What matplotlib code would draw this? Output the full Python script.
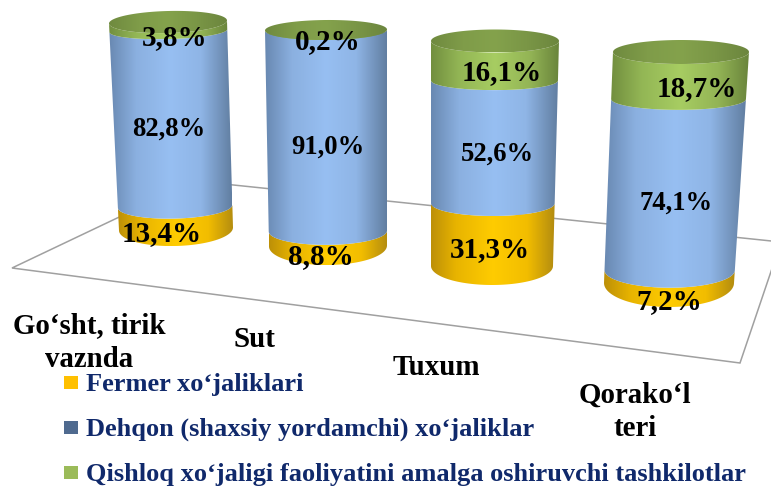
import numpy as np
import matplotlib
matplotlib.use("Agg")
import matplotlib.pyplot as plt
from matplotlib.colors import LinearSegmentedColormap
from matplotlib.patches import Polygon, Rectangle

# ----------------------------------------------------------------------
# Data
# ----------------------------------------------------------------------
categories = ["Go‘sht, tirik\nvaznda", "Sut", "Tuxum", "Qorako‘l\nteri"]
series_names = ["Fermer xo‘jaliklari",
                "Dehqon (shaxsiy yordamchi) xo‘jaliklar",
                "Qishloq xo‘jaligi faoliyatini amalga oshiruvchi tashkilotlar"]
fermer = [13.4, 8.8, 31.3, 7.2]
dehqon = [82.8, 91.0, 52.6, 74.1]
tashkilot = [3.8, 0.2, 16.1, 18.7]

# ----------------------------------------------------------------------
# Layout of the fake 3D scene, in pixels
# ----------------------------------------------------------------------
# bottom cx, bottom rx, bottom cy, bottom ry, top cx, top rx, top cy, top ry, tilt
cylinders = [
    (176, 57, 229, 17, 168, 59, 22, 11, -1.5),
    (328, 59, 246, 19, 326, 61, 30, 10, -0.5),
    (492, 61, 266, 19, 495, 64, 41, 11.5, 0),
    (669, 65, 283, 24, 681, 68, 52, 12, 0),
]
label_pos = [
    [(162, 234), (169, 129), (175, 38)],
    [(321, 257), (328, 147), (328, 42)],
    [(490, 250), (497, 154), (502, 73)],
    [(669, 302), (676, 203), (697, 89)],
]
label_size = [21, 19.2, 21]
cat_centers = [89, 254, 436, 635]
cat_tops = [326, 339, 367, 395]
cat_line_gap = 33
legend_y = [384, 429, 474]
floor = [(12, 268), (195, 181), (781, 242), (740, 363)]
perspective = 1.1      # stacked percent -> height on screen
inner_ry = 0.75        # inner boundaries look flatter than the end caps

side_cmaps = [
    LinearSegmentedColormap.from_list("y", [(0, "#bd9008"), (0.2, "#e8b400"), (0.5, "#ffcc00"),
                                            (0.78, "#f2bd00"), (1, "#b38c10")]),
    LinearSegmentedColormap.from_list("b", [(0, "#6989b2"), (0.22, "#8bb0e0"), (0.5, "#97bff2"),
                                            (0.75, "#8fb5e6"), (1, "#627fa2")]),
    LinearSegmentedColormap.from_list("g", [(0, "#728f3f"), (0.22, "#93b655"), (0.5, "#a7cd62"),
                                            (0.78, "#93b455"), (1, "#6a853c")]),
]
top_cmap = LinearSegmentedColormap.from_list("t", ["#6f8a3f", "#7f9c49", "#84a24c", "#7a9646", "#6c863e"])
legend_colors = ["#ffc000", "#4f6a8f", "#9bbb59"]


def arc(cyl, pct, lower=True, flat=1.0):
    """Half ellipse of the cylinder cross-section at a stacked percent."""
    cx0, rx0, cy0, ry0, cx1, rx1, cy1, ry1, tilt = cyl
    f = (min(pct, 100) / 100) ** perspective
    cx = cx0 + (cx1 - cx0) * f
    rx = rx0 + (rx1 - rx0) * f
    cy = cy0 + (cy1 - cy0) * f
    ry = (ry0 + (ry1 - ry0) * f) * flat
    t = np.linspace(np.pi, 0, 60)
    x = cx + rx * np.cos(t)
    sign = 1 if lower else -1
    y = cy + sign * ry * np.sin(t) + tilt * np.cos(t)
    return np.column_stack([x, y])


def shaded(ax, pts, cmap, z):
    x0, x1 = pts[:, 0].min(), pts[:, 0].max()
    y0, y1 = pts[:, 1].min(), pts[:, 1].max()
    grad = np.linspace(0, 1, 128).reshape(1, -1)
    im = ax.imshow(grad, cmap=cmap, extent=(x0, x1, y1, y0), aspect="auto",
                   zorder=z, interpolation="bilinear")
    clip = Polygon(pts, closed=True, transform=ax.transData)
    im.set_clip_path(clip)


fig = plt.figure(figsize=(7.71, 4.86), dpi=100)
ax = fig.add_axes([0, 0, 1, 1])
ax.axis("off")

ax.add_patch(Polygon(floor, closed=True, facecolor="white", edgecolor="#a0a0a0",
                     linewidth=1.1, zorder=1))

series = [fermer, dehqon, tashkilot]
for i, cyl in enumerate(cylinders):
    z = 2 + i
    cum = 0
    for s, values in enumerate(series):
        start = cum
        cum += values[i]
        low_flat = 1.0 if s == 0 else inner_ry
        up_flat = 1.0 if s == 2 else inner_ry
        pts = np.vstack([arc(cyl, start, flat=low_flat), arc(cyl, cum, flat=up_flat)[::-1]])
        shaded(ax, pts, side_cmaps[s], z + s * 0.1)
    # top cap of the last series
    top = np.vstack([arc(cyl, cum), arc(cyl, cum, lower=False)[::-1]])
    shaded(ax, top, top_cmap, z + 0.5)

for i in range(len(categories)):
    for s, values in enumerate(series):
        lx, ly = label_pos[i][s]
        txt = f"{values[i]:.1f}%".replace(".", ",")
        ax.text(lx, ly, txt, ha="center", va="center", fontsize=label_size[s],
                fontweight="bold", family="Liberation Serif", color="black", zorder=10)

for cat, cx, cy in zip(categories, cat_centers, cat_tops):
    for k, line in enumerate(cat.split("\n")):
        ax.text(cx, cy + k * cat_line_gap, line, ha="center", va="center", fontsize=20.8,
                fontweight="bold", family="Liberation Serif", color="black", zorder=10)

for name, col, ly in zip(series_names, legend_colors, legend_y):
    ax.add_patch(Rectangle((64, ly - 8), 14, 13, facecolor=col, edgecolor="none", zorder=10))
    ax.text(86, ly, name, ha="left", va="center", fontsize=19,
            fontweight="bold", family="Liberation Serif", color="#10296b", zorder=10)

ax.set_xlim(0, 771)
ax.set_ylim(486, 0)
fig.savefig("out.png", dpi=100, facecolor="white")
